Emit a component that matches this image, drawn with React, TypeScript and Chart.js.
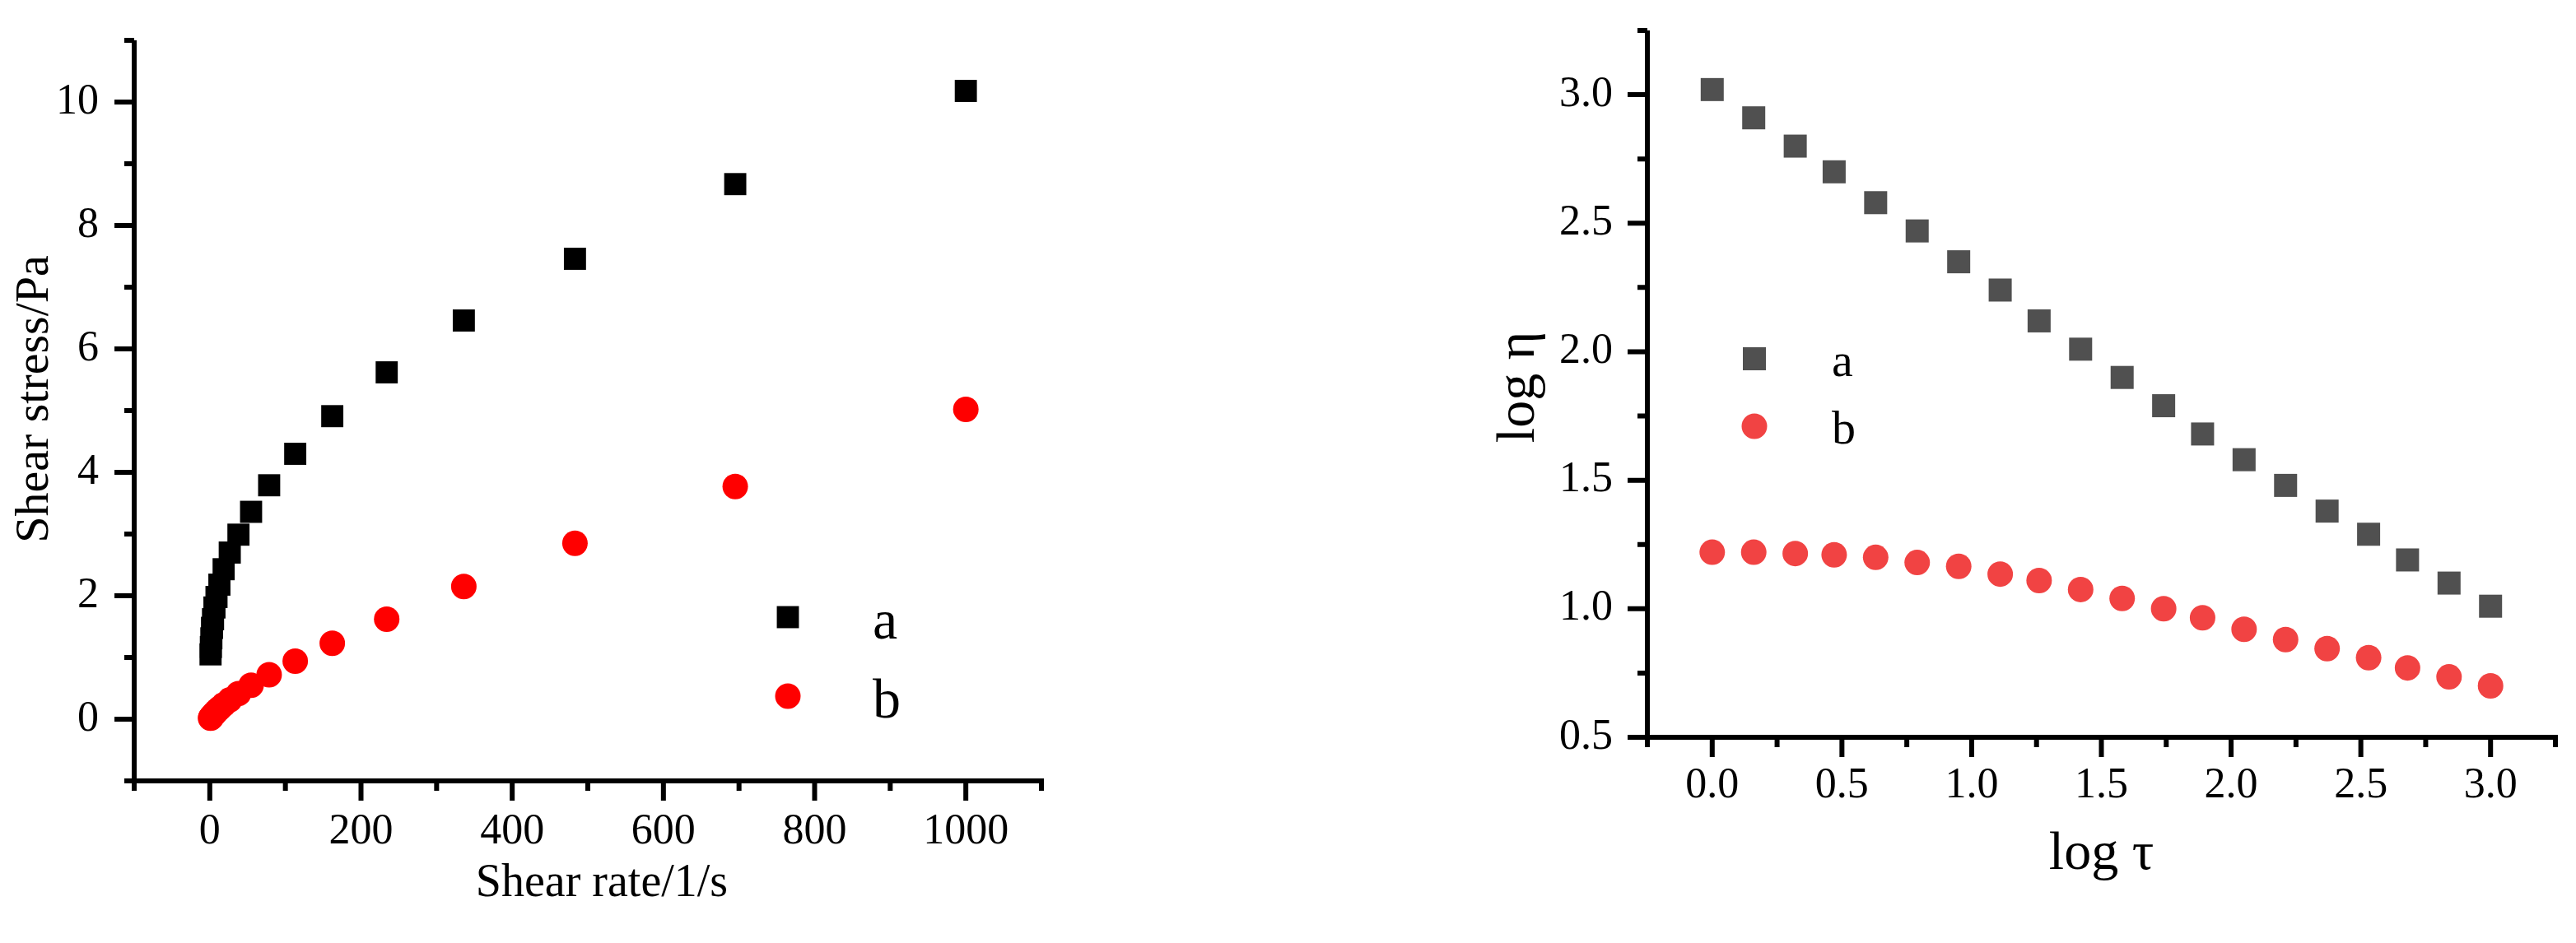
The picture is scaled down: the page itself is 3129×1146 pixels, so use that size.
import React, { useEffect, useRef } from 'react';
import { Chart, registerables } from 'chart.js';

Chart.register(...registerables);

// ---------- data (left: flow curve) ----------
const shearRate = [1, 1.44, 2.07, 2.98, 4.28, 6.16, 8.86, 12.7, 18.3, 26.4, 37.9, 54.6, 78.5, 113, 162, 234, 336, 483, 695, 1000];
const stressA = [1.05, 1.17, 1.31, 1.48, 1.62, 1.81, 1.98, 2.18, 2.43, 2.7, 2.99, 3.36, 3.79, 4.3, 4.91, 5.62, 6.46, 7.46, 8.67, 10.18];
const stressB = [0.017, 0.024, 0.034, 0.048, 0.068, 0.094, 0.129, 0.174, 0.235, 0.312, 0.415, 0.549, 0.72, 0.94, 1.23, 1.62, 2.15, 2.85, 3.77, 5.02];

// ---------- data (right: log-log) ----------
const logTau = [0, 0.16, 0.32, 0.47, 0.63, 0.79, 0.95, 1.11, 1.26, 1.42, 1.58, 1.74, 1.89, 2.05, 2.21, 2.37, 2.53, 2.68, 2.84, 3.0];
const logEtaA = [3.02, 2.91, 2.8, 2.7, 2.58, 2.47, 2.35, 2.24, 2.12, 2.01, 1.9, 1.79, 1.68, 1.58, 1.48, 1.38, 1.29, 1.19, 1.1, 1.01];
const logEtaB = [1.22, 1.22, 1.215, 1.21, 1.2, 1.18, 1.165, 1.135, 1.11, 1.075, 1.04, 1.0, 0.965, 0.92, 0.88, 0.845, 0.81, 0.77, 0.735, 0.7];

const seriesLabels = ['a', 'b'];

// ---------- tick values ----------
const leftXMajor = [0, 200, 400, 600, 800, 1000];
const leftXMinor = [-100, 100, 300, 500, 700, 900, 1100];
const leftYMajor = [0, 2, 4, 6, 8, 10];
const leftYMinor = [-1, 1, 3, 5, 7, 9, 11];
const rightXMajor = [0, 0.5, 1, 1.5, 2, 2.5, 3];
const rightXMinor = [-0.25, 0.25, 0.75, 1.25, 1.75, 2.25, 2.75, 3.25];
const rightYMajor = [0.5, 1, 1.5, 2, 2.5, 3];
const rightYMinor = [0.75, 1.25, 1.75, 2.25, 2.75, 3.25];

const FONT = '"Liberation Serif", "Times New Roman", serif';

const axesPlugin = {
  id: 'axesDraw',
  afterDraw(chart: any, _args: any, opts: any) {
    const { ctx, chartArea } = chart;
    const { left, right, top, bottom } = chartArea;
    const xs = chart.scales.x;
    const ys = chart.scales.y;
    const lw = 6;
    ctx.save();
    ctx.strokeStyle = '#000';
    ctx.lineWidth = lw;
    ctx.lineCap = 'butt';
    ctx.beginPath();
    ctx.moveTo(left, top);
    ctx.lineTo(left, bottom + lw / 2);
    ctx.moveTo(left - lw / 2, bottom);
    ctx.lineTo(right + lw / 2, bottom);
    ctx.stroke();

    const majorLen = 24;
    const minorLen = 12;
    ctx.beginPath();
    (opts.xMajor || []).forEach((v: number) => {
      const p = xs.getPixelForValue(v);
      ctx.moveTo(p, bottom);
      ctx.lineTo(p, bottom + majorLen);
    });
    (opts.xMinor || []).forEach((v: number) => {
      const p = xs.getPixelForValue(v);
      ctx.moveTo(p, bottom);
      ctx.lineTo(p, bottom + minorLen);
    });
    (opts.yMajor || []).forEach((v: number) => {
      const p = ys.getPixelForValue(v);
      ctx.moveTo(left, p);
      ctx.lineTo(left - majorLen, p);
    });
    (opts.yMinor || []).forEach((v: number) => {
      const p = ys.getPixelForValue(v);
      ctx.moveTo(left, p);
      ctx.lineTo(left - minorLen, p);
    });
    ctx.stroke();

    // axis titles
    const t = opts.titles;
    if (t) {
      ctx.fillStyle = '#000';
      ctx.textAlign = 'center';
      ctx.textBaseline = 'middle';
      ctx.font = `${t.xSize}px ${FONT}`;
      ctx.fillText(t.x, (left + right) / 2 + t.xDx, bottom + t.xDy);
      ctx.save();
      ctx.translate(left - t.yDx, (top + bottom) / 2 + t.yDy);
      ctx.rotate(-Math.PI / 2);
      ctx.font = `${t.ySize}px ${FONT}`;
      ctx.fillText(t.y, 0, 0);
      ctx.restore();
    }

    // legend
    const lg = opts.legend;
    if (lg) {
      chart.data.datasets.forEach((ds: any, i: number) => {
        const cx = lg.x;
        const cy = lg.y[i];
        ctx.fillStyle = ds.backgroundColor;
        const r = ds.pointRadius;
        ctx.beginPath();
        if (ds.pointStyle === 'rect') {
          const s = Math.SQRT1_2 * r;
          ctx.rect(cx - s, cy - s, 2 * s, 2 * s);
        } else {
          ctx.arc(cx, cy, r, 0, Math.PI * 2);
        }
        ctx.fill();
        ctx.fillStyle = '#000';
        ctx.font = `${lg.fontSize}px ${FONT}`;
        ctx.textAlign = 'left';
        ctx.textBaseline = 'alphabetic';
        ctx.fillText(ds.label, cx + lg.textDx, cy + lg.textDy);
      });
    }
    ctx.restore();
  },
};

function makeConfig(p: any) {
  return {
    type: 'scatter',
    data: {
      datasets: [
        {
          label: seriesLabels[0],
          data: p.xData.map((x: number, i: number) => ({ x, y: p.yA[i] })),
          pointStyle: 'rect',
          pointRadius: p.rectR,
          pointHoverRadius: p.rectR,
          backgroundColor: p.colorA,
          borderWidth: 0,
        },
        {
          label: seriesLabels[1],
          data: p.xData.map((x: number, i: number) => ({ x, y: p.yB[i] })),
          pointStyle: 'circle',
          pointRadius: p.circR,
          pointHoverRadius: p.circR,
          backgroundColor: p.colorB,
          borderWidth: 0,
        },
      ],
    },
    options: {
      responsive: false,
      animation: false,
      events: [],
      layout: { padding: p.padding },
      plugins: {
        legend: { display: false },
        tooltip: { enabled: false },
        axesDraw: {
          xMajor: p.xMajor,
          xMinor: p.xMinor,
          yMajor: p.yMajor,
          yMinor: p.yMinor,
          legend: p.legend,
          titles: p.titles,
        },
      },
      scales: {
        x: {
          type: 'linear',
          min: p.xMin,
          max: p.xMax,
          grid: { display: false, drawTicks: false },
          border: { display: false },
          afterBuildTicks: (s: any) => {
            s.ticks = p.xMajor.map((v: number) => ({ value: v }));
          },
          afterFit: (s: any) => {
            s.height = p.xAxisH;
            s.paddingLeft = 0;
            s.paddingRight = 0;
            s.paddingTop = 0;
            s.paddingBottom = 0;
          },
          ticks: {
            color: '#000',
            padding: p.xTickPad,
            maxRotation: 0,
            autoSkip: false,
            font: { family: FONT, size: 52, lineHeight: 1 },
            callback: p.fmt,
          },
          title: { display: false },
        },
        y: {
          type: 'linear',
          min: p.yMin,
          max: p.yMax,
          grid: { display: false, drawTicks: false },
          border: { display: false },
          afterBuildTicks: (s: any) => {
            s.ticks = p.yMajor.map((v: number) => ({ value: v }));
          },
          afterFit: (s: any) => {
            s.width = p.yAxisW;
            s.paddingLeft = 0;
            s.paddingRight = 0;
            s.paddingTop = 0;
            s.paddingBottom = 0;
          },
          ticks: {
            color: '#000',
            padding: p.yTickPad,
            autoSkip: false,
            font: { family: FONT, size: 52, lineHeight: 1 },
            callback: p.fmt,
          },
          title: { display: false },
        },
      },
    },
    plugins: [axesPlugin],
  };
}

const leftParams = {
  xData: shearRate,
  yA: stressA,
  yB: stressB,
  rectR: 19,
  circR: 15.5,
  colorA: '#000000',
  colorB: '#ff0000',
  padding: { left: 0, top: 49, right: 299, bottom: 0 },
  xMin: -100,
  xMax: 1100,
  yMin: -1,
  yMax: 11,
  xMajor: leftXMajor,
  xMinor: leftXMinor,
  yMajor: leftYMajor,
  yMinor: leftYMinor,
  xAxisH: 197,
  yAxisW: 163,
  xTickPad: 36,
  yTickPad: 43,
  fmt: (v: any) => String(v),
  titles: { x: 'Shear rate/1/s', y: 'Shear stress/Pa', xSize: 56, ySize: 58, xDx: 17, xDy: 125, yDx: 120, yDy: -14 },
  legend: { x: 957, y: [750, 846], textDx: 103, textDy: 26, fontSize: 68 },
};

const rightParams = {
  xData: logTau,
  yA: logEtaA,
  yB: logEtaB,
  rectR: 19.8,
  circR: 15.5,
  colorA: '#505050',
  colorB: '#f14343',
  padding: { left: 0, top: 37, right: 25, bottom: 0 },
  xMin: -0.25,
  xMax: 3.25,
  yMin: 0.5,
  yMax: 3.25,
  xMajor: rightXMajor,
  xMinor: rightXMinor,
  yMajor: rightYMajor,
  yMinor: rightYMinor,
  xAxisH: 250,
  yAxisW: 437,
  xTickPad: 33,
  yTickPad: 42,
  fmt: (v: any) => Number(v).toFixed(1),
  titles: { x: 'log τ', y: 'log η', xSize: 66, ySize: 66, xDx: 0, xDy: 143, yDx: 155, yDy: 4 },
  legend: { x: 567, y: [436, 518], textDx: 94, textDy: 21, fontSize: 58 },
};

function ChartCanvas({ params, width, height }: { params: any; width: number; height: number }) {
  const ref = useRef<HTMLCanvasElement | null>(null);
  useEffect(() => {
    if (!ref.current) return;
    const chart = new Chart(ref.current, makeConfig(params) as any);
    return () => chart.destroy();
  }, [params]);
  return <canvas ref={ref} width={width} height={height} style={{ display: 'block', width, height }} />;
}

export default function App() {
  return (
    <div style={{ position: 'absolute', left: 0, top: 0, width: 3129, height: 1146, background: '#fff' }}>
      <div style={{ position: 'absolute', left: 0, top: 0, width: 1564, height: 1146 }}>
        <ChartCanvas params={leftParams} width={1564} height={1146} />
      </div>
      <div style={{ position: 'absolute', left: 1564, top: 0, width: 1565, height: 1146 }}>
        <ChartCanvas params={rightParams} width={1565} height={1146} />
      </div>
    </div>
  );
}
